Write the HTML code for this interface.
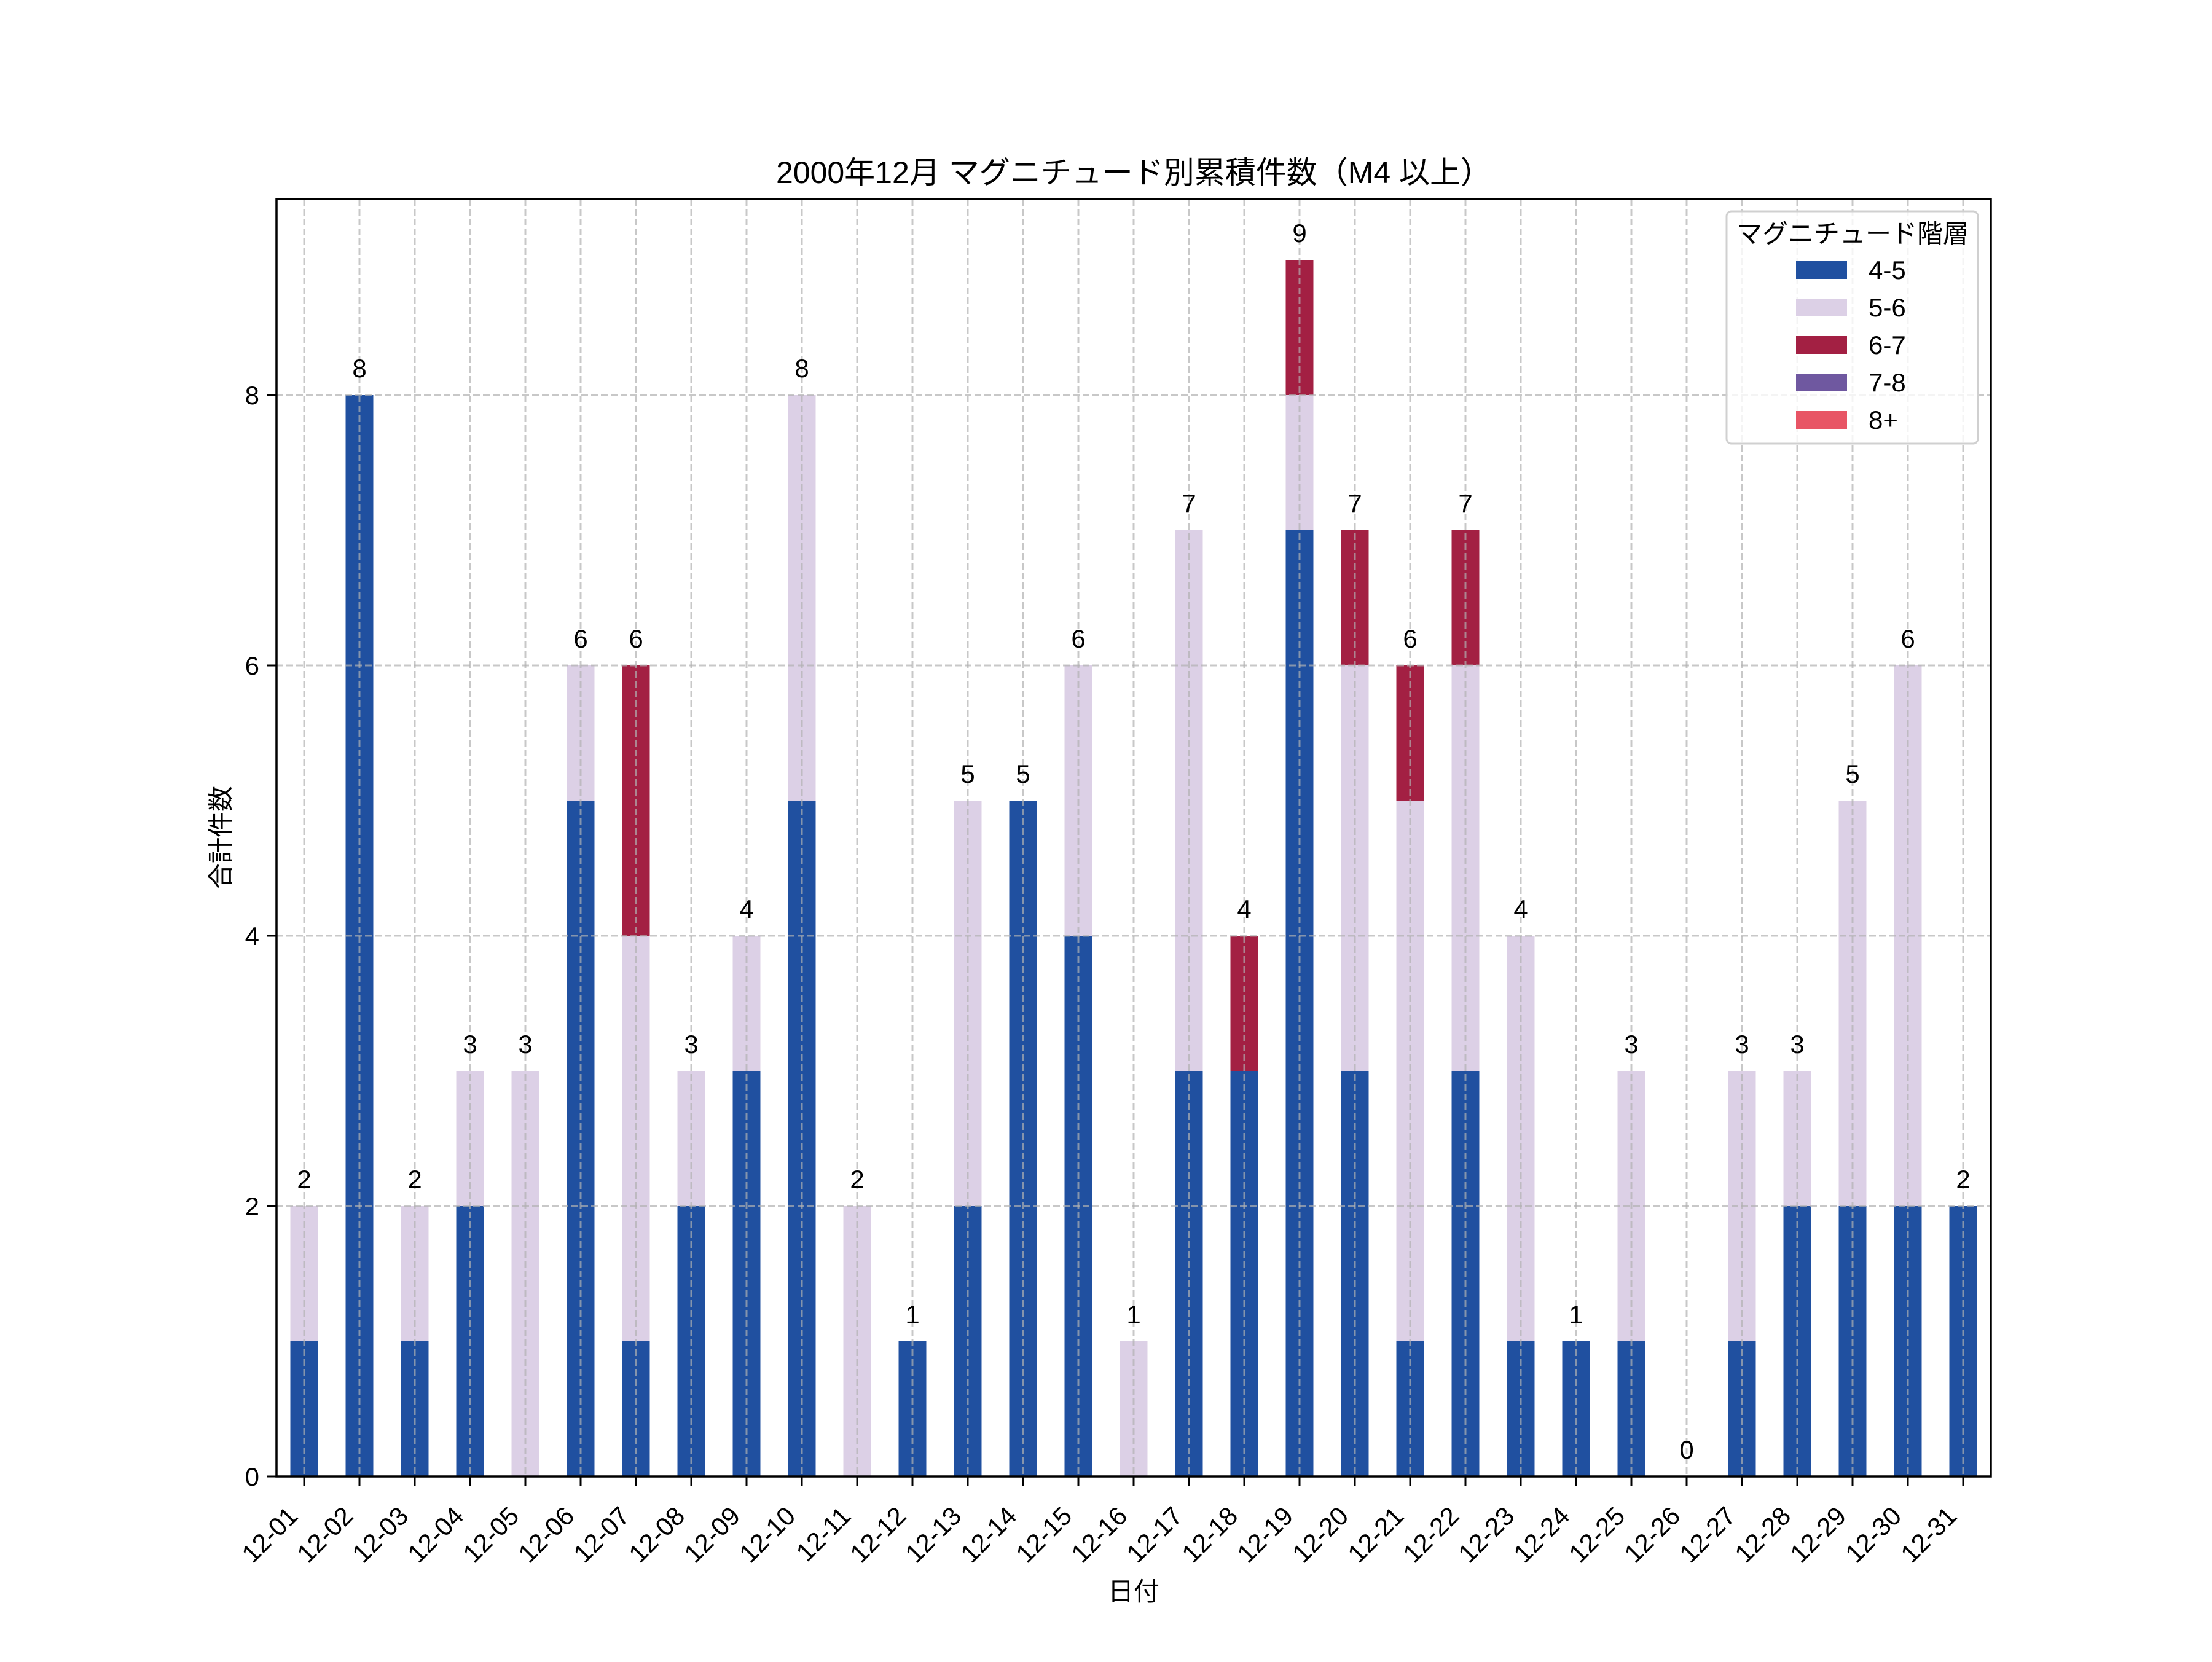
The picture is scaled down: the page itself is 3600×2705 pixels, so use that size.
<!DOCTYPE html>
<html><head><meta charset="utf-8"><style>html,body{margin:0;padding:0;background:#fff}</style></head>
<body>
<svg width="3600" height="2700" viewBox="0 0 3600 2700" xmlns="http://www.w3.org/2000/svg" font-family="'Liberation Sans','Noto Sans CJK JP',sans-serif">
<rect width="3600" height="2700" fill="#fff"/>
<g fill="#2050a0">
<rect x="472.5" y="2183" width="45" height="220"/>
<rect x="562.5" y="643" width="45" height="1760"/>
<rect x="652.5" y="2183" width="45" height="220"/>
<rect x="742.5" y="1963" width="45" height="440"/>
<rect x="922.5" y="1303" width="45" height="1100"/>
<rect x="1012.5" y="2183" width="45" height="220"/>
<rect x="1102.5" y="1963" width="45" height="440"/>
<rect x="1192.5" y="1743" width="45" height="660"/>
<rect x="1282.5" y="1303" width="45" height="1100"/>
<rect x="1462.5" y="2183" width="45" height="220"/>
<rect x="1552.5" y="1963" width="45" height="440"/>
<rect x="1642.5" y="1303" width="45" height="1100"/>
<rect x="1732.5" y="1523" width="45" height="880"/>
<rect x="1912.5" y="1743" width="45" height="660"/>
<rect x="2002.5" y="1743" width="45" height="660"/>
<rect x="2092.5" y="863" width="45" height="1540"/>
<rect x="2182.5" y="1743" width="45" height="660"/>
<rect x="2272.5" y="2183" width="45" height="220"/>
<rect x="2362.5" y="1743" width="45" height="660"/>
<rect x="2452.5" y="2183" width="45" height="220"/>
<rect x="2542.5" y="2183" width="45" height="220"/>
<rect x="2632.5" y="2183" width="45" height="220"/>
<rect x="2812.5" y="2183" width="45" height="220"/>
<rect x="2902.5" y="1963" width="45" height="440"/>
<rect x="2992.5" y="1963" width="45" height="440"/>
<rect x="3082.5" y="1963" width="45" height="440"/>
<rect x="3172.5" y="1963" width="45" height="440"/>
</g>
<g fill="#dcd0e6">
<rect x="472.5" y="1963" width="45" height="220"/>
<rect x="652.5" y="1963" width="45" height="220"/>
<rect x="742.5" y="1743" width="45" height="220"/>
<rect x="832.5" y="1743" width="45" height="660"/>
<rect x="922.5" y="1083" width="45" height="220"/>
<rect x="1012.5" y="1523" width="45" height="660"/>
<rect x="1102.5" y="1743" width="45" height="220"/>
<rect x="1192.5" y="1523" width="45" height="220"/>
<rect x="1282.5" y="643" width="45" height="660"/>
<rect x="1372.5" y="1963" width="45" height="440"/>
<rect x="1552.5" y="1303" width="45" height="660"/>
<rect x="1732.5" y="1083" width="45" height="440"/>
<rect x="1822.5" y="2183" width="45" height="220"/>
<rect x="1912.5" y="863" width="45" height="880"/>
<rect x="2092.5" y="643" width="45" height="220"/>
<rect x="2182.5" y="1083" width="45" height="660"/>
<rect x="2272.5" y="1303" width="45" height="880"/>
<rect x="2362.5" y="1083" width="45" height="660"/>
<rect x="2452.5" y="1523" width="45" height="660"/>
<rect x="2632.5" y="1743" width="45" height="440"/>
<rect x="2812.5" y="1743" width="45" height="440"/>
<rect x="2902.5" y="1743" width="45" height="220"/>
<rect x="2992.5" y="1303" width="45" height="660"/>
<rect x="3082.5" y="1083" width="45" height="880"/>
</g>
<g fill="#a32043">
<rect x="1012.5" y="1083" width="45" height="440"/>
<rect x="2002.5" y="1523" width="45" height="220"/>
<rect x="2092.5" y="423" width="45" height="220"/>
<rect x="2182.5" y="863" width="45" height="220"/>
<rect x="2272.5" y="1083" width="45" height="220"/>
<rect x="2362.5" y="863" width="45" height="220"/>
</g>
<g stroke="#b0b0b0" stroke-opacity="0.7" stroke-width="3" stroke-dasharray="11,5">
<path d="M495 324V2403M585 324V2403M675 324V2403M765 324V2403M855 324V2403M945 324V2403M1035 324V2403M1125 324V2403M1215 324V2403M1305 324V2403M1395 324V2403M1485 324V2403M1575 324V2403M1665 324V2403M1755 324V2403M1845 324V2403M1935 324V2403M2025 324V2403M2115 324V2403M2205 324V2403M2295 324V2403M2385 324V2403M2475 324V2403M2565 324V2403M2655 324V2403M2745 324V2403M2835 324V2403M2925 324V2403M3015 324V2403M3105 324V2403M3195 324V2403"/>
<path d="M450 1963H3240M450 1523H3240M450 1083H3240M450 643H3240"/>
</g>
<rect x="450" y="324" width="2790" height="2079" fill="none" stroke="#000" stroke-width="3.5"/>
<g stroke="#000" stroke-width="3">
<path d="M495 2403v15M585 2403v15M675 2403v15M765 2403v15M855 2403v15M945 2403v15M1035 2403v15M1125 2403v15M1215 2403v15M1305 2403v15M1395 2403v15M1485 2403v15M1575 2403v15M1665 2403v15M1755 2403v15M1845 2403v15M1935 2403v15M2025 2403v15M2115 2403v15M2205 2403v15M2295 2403v15M2385 2403v15M2475 2403v15M2565 2403v15M2655 2403v15M2745 2403v15M2835 2403v15M2925 2403v15M3015 2403v15M3105 2403v15M3195 2403v15"/>
<path d="M450 2403h-15M450 1963h-15M450 1523h-15M450 1083h-15M450 643h-15"/>
</g>
<g font-size="42" text-anchor="end">
<text x="422" y="2418">0</text><text x="422" y="1978">2</text><text x="422" y="1538">4</text><text x="422" y="1098">6</text><text x="422" y="658">8</text>
</g>
<g font-size="42" text-anchor="middle">
<text x="495" y="1934">2</text><text x="585" y="614">8</text><text x="675" y="1934">2</text><text x="765" y="1714">3</text><text x="855" y="1714">3</text><text x="945" y="1054">6</text><text x="1035" y="1054">6</text><text x="1125" y="1714">3</text><text x="1215" y="1494">4</text><text x="1305" y="614">8</text><text x="1395" y="1934">2</text><text x="1485" y="2154">1</text><text x="1575" y="1274">5</text><text x="1665" y="1274">5</text><text x="1755" y="1054">6</text><text x="1845" y="2154">1</text><text x="1935" y="834">7</text><text x="2025" y="1494">4</text><text x="2115" y="394">9</text><text x="2205" y="834">7</text><text x="2295" y="1054">6</text><text x="2385" y="834">7</text><text x="2475" y="1494">4</text><text x="2565" y="2154">1</text><text x="2655" y="1714">3</text><text x="2745" y="2374">0</text><text x="2835" y="1714">3</text><text x="2925" y="1714">3</text><text x="3015" y="1274">5</text><text x="3105" y="1054">6</text><text x="3195" y="1934">2</text>
</g>
<g font-size="42" text-anchor="end">
<text transform="translate(487,2470) rotate(-45)">12-01</text>
<text transform="translate(577,2470) rotate(-45)">12-02</text>
<text transform="translate(667,2470) rotate(-45)">12-03</text>
<text transform="translate(757,2470) rotate(-45)">12-04</text>
<text transform="translate(847,2470) rotate(-45)">12-05</text>
<text transform="translate(937,2470) rotate(-45)">12-06</text>
<text transform="translate(1027,2470) rotate(-45)">12-07</text>
<text transform="translate(1117,2470) rotate(-45)">12-08</text>
<text transform="translate(1207,2470) rotate(-45)">12-09</text>
<text transform="translate(1297,2470) rotate(-45)">12-10</text>
<text transform="translate(1387,2470) rotate(-45)">12-11</text>
<text transform="translate(1477,2470) rotate(-45)">12-12</text>
<text transform="translate(1567,2470) rotate(-45)">12-13</text>
<text transform="translate(1657,2470) rotate(-45)">12-14</text>
<text transform="translate(1747,2470) rotate(-45)">12-15</text>
<text transform="translate(1837,2470) rotate(-45)">12-16</text>
<text transform="translate(1927,2470) rotate(-45)">12-17</text>
<text transform="translate(2017,2470) rotate(-45)">12-18</text>
<text transform="translate(2107,2470) rotate(-45)">12-19</text>
<text transform="translate(2197,2470) rotate(-45)">12-20</text>
<text transform="translate(2287,2470) rotate(-45)">12-21</text>
<text transform="translate(2377,2470) rotate(-45)">12-22</text>
<text transform="translate(2467,2470) rotate(-45)">12-23</text>
<text transform="translate(2557,2470) rotate(-45)">12-24</text>
<text transform="translate(2647,2470) rotate(-45)">12-25</text>
<text transform="translate(2737,2470) rotate(-45)">12-26</text>
<text transform="translate(2827,2470) rotate(-45)">12-27</text>
<text transform="translate(2917,2470) rotate(-45)">12-28</text>
<text transform="translate(3007,2470) rotate(-45)">12-29</text>
<text transform="translate(3097,2470) rotate(-45)">12-30</text>
<text transform="translate(3187,2470) rotate(-45)">12-31</text>
</g>
<text x="1845" y="298" font-size="50" text-anchor="middle">2000年12月 マグニチュード別累積件数（M4 以上）</text>
<text x="1845" y="2605" font-size="42" text-anchor="middle">日付</text>
<text transform="translate(374,1363) rotate(-90)" font-size="42" text-anchor="middle">合計件数</text>
<rect x="2810" y="344" width="409" height="378" rx="8" fill="#fff" fill-opacity="0.8" stroke="#d0d0d0" stroke-width="3"/>
<text x="3015" y="395" font-size="42" text-anchor="middle">マグニチュード階層</text>
<rect x="2923" y="425" width="83" height="29" fill="#2050a0"/>
<rect x="2923" y="486" width="83" height="29" fill="#dcd0e6"/>
<rect x="2923" y="547" width="83" height="29" fill="#a32043"/>
<rect x="2923" y="608" width="83" height="29" fill="#6f58a0"/>
<rect x="2923" y="669" width="83" height="29" fill="#e85565"/>
<g font-size="42">
<text x="3041" y="454">4-5</text><text x="3041" y="515">5-6</text><text x="3041" y="576">6-7</text><text x="3041" y="637">7-8</text><text x="3041" y="698">8+</text>
</g>
</svg>
</body></html>
